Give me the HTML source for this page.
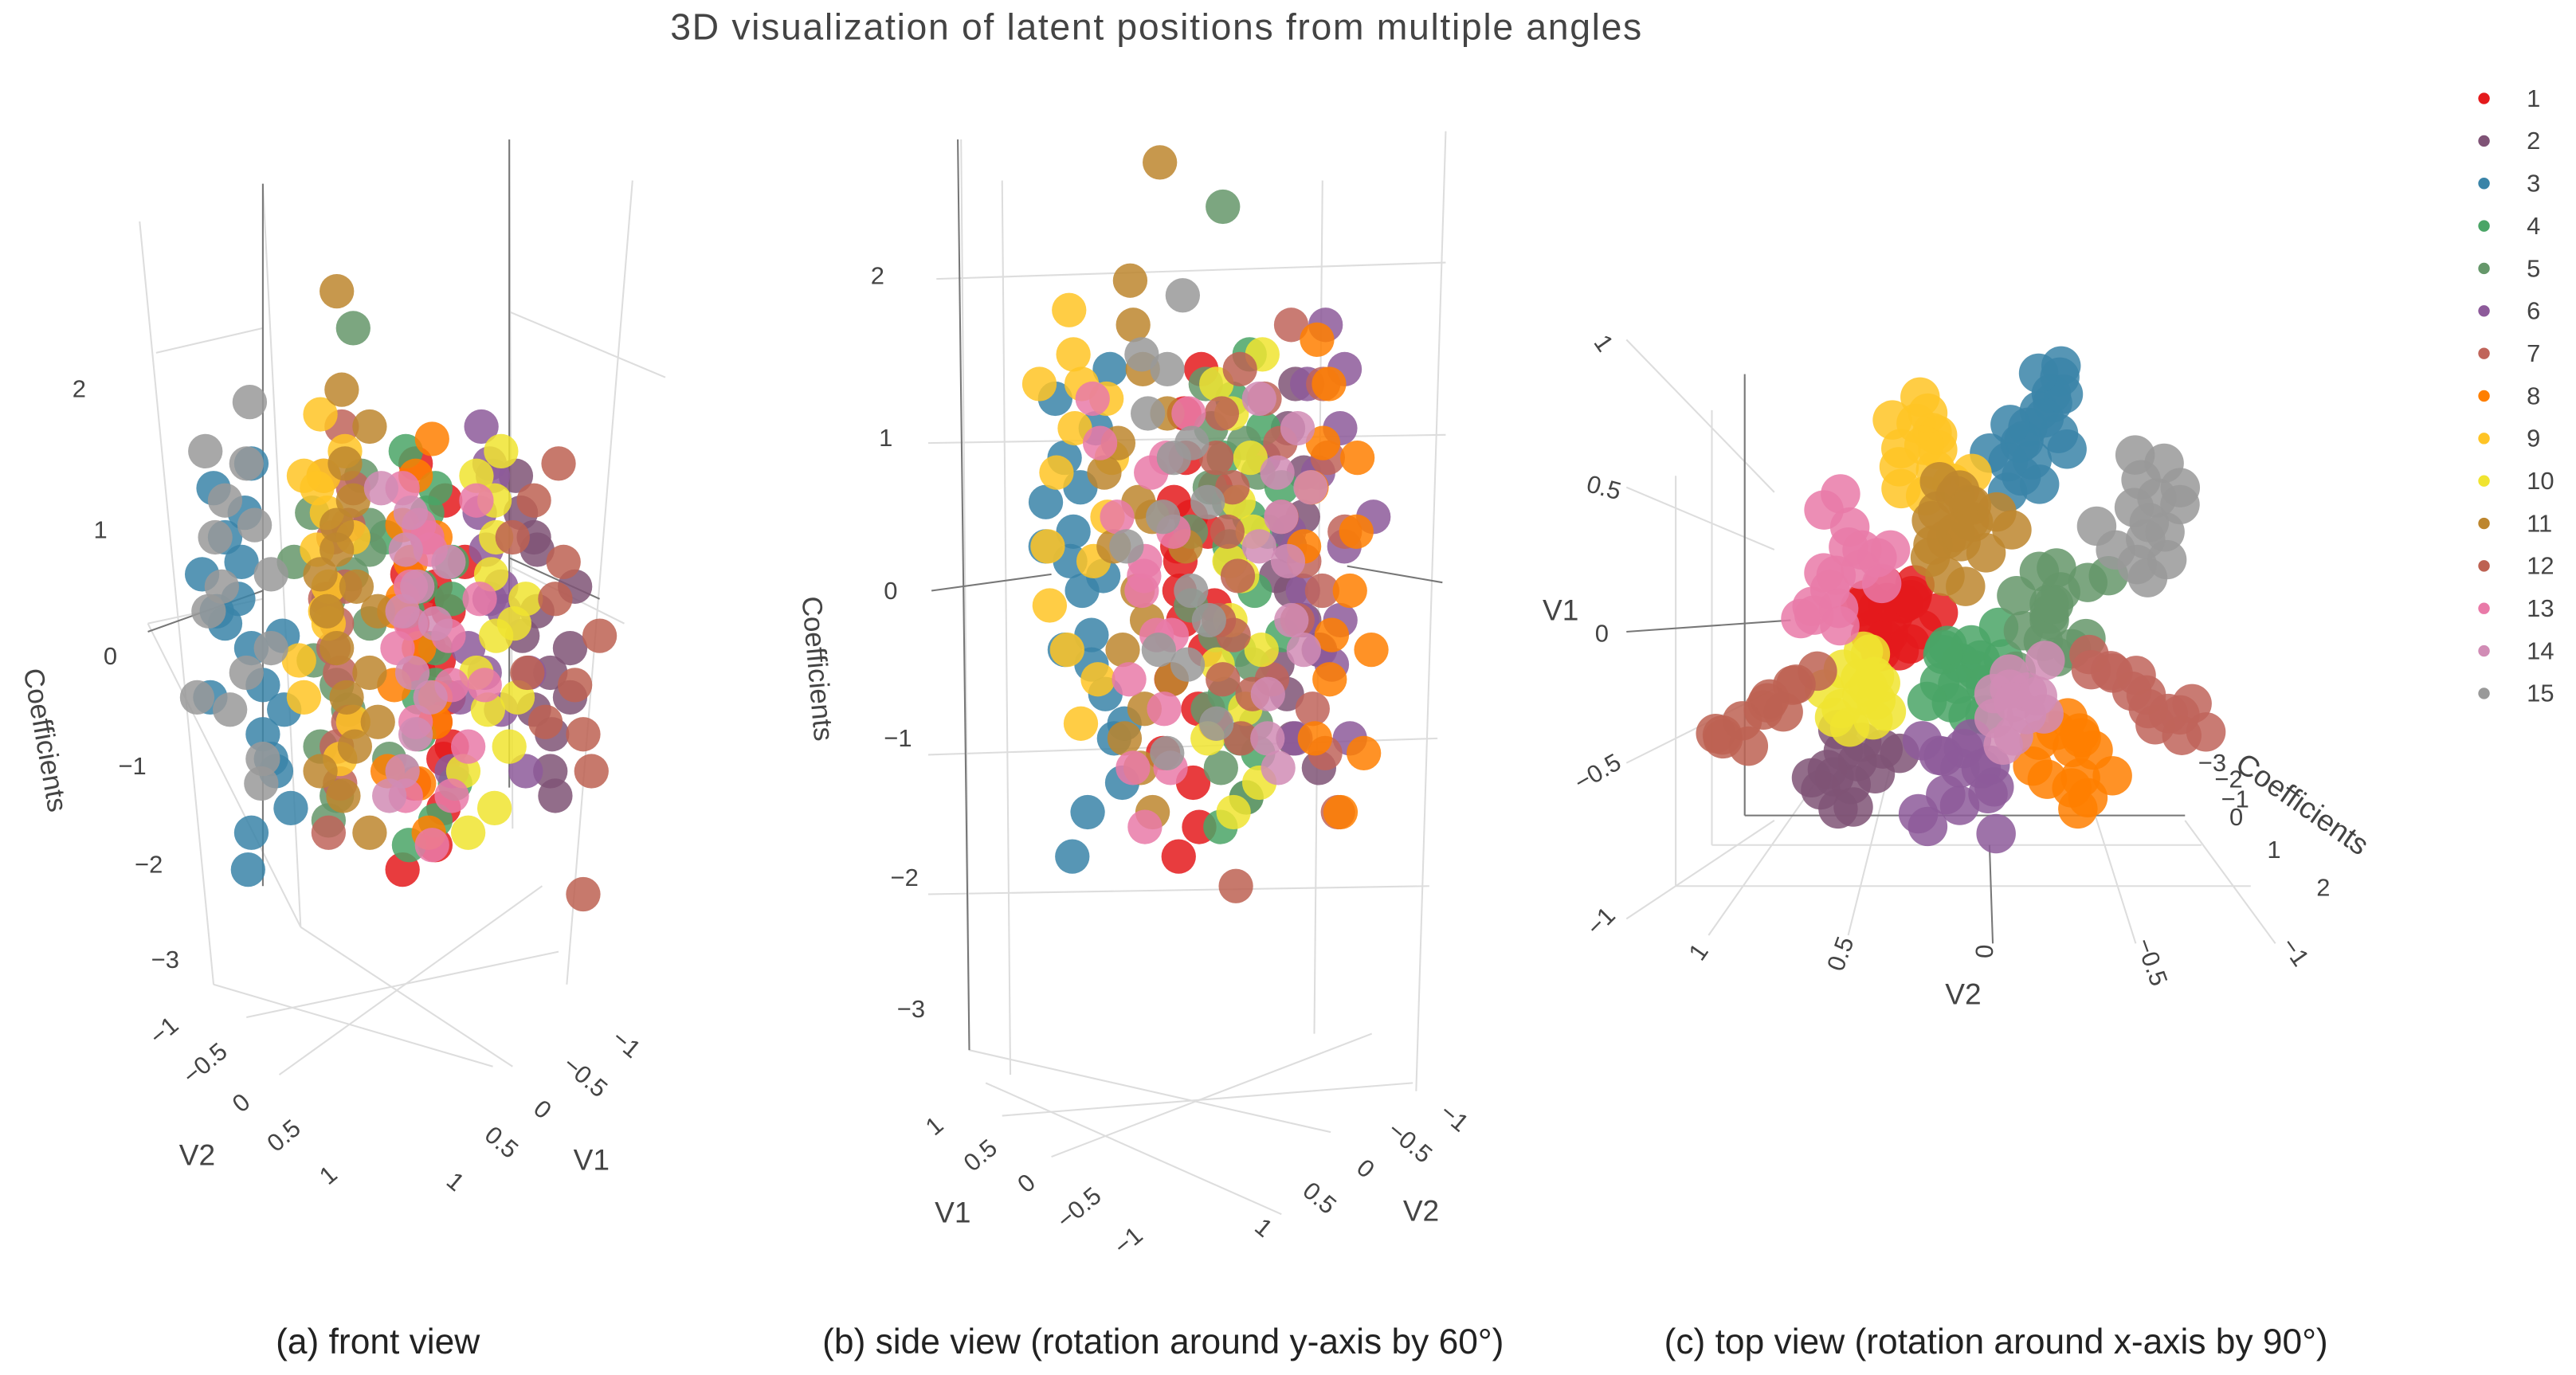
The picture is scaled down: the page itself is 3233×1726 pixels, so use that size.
<!DOCTYPE html>
<html><head><meta charset="utf-8"><style>
html,body{margin:0;padding:0;background:#fff;width:3233px;height:1726px;overflow:hidden}
svg{display:block}
text{font-family:"Liberation Sans",sans-serif;fill:#444}
</style></head><body>
<svg id="chart" width="3233" height="1726" viewBox="0 0 1568 838" preserveAspectRatio="none" xmlns="http://www.w3.org/2000/svg">
<text x="704" y="24" text-anchor="middle" font-size="22.5" letter-spacing="0.8">3D visualization of latent positions from multiple angles</text>
<g id="grid" stroke="#ddd" stroke-width="1" fill="none">
<line x1="160" y1="112" x2="183" y2="565"/><line x1="310" y1="85" x2="312" y2="505"/>
<line x1="85" y1="135" x2="130" y2="600"/><line x1="385" y1="110" x2="345" y2="600"/>
<line x1="183" y1="565" x2="312" y2="650"/><line x1="183" y1="565" x2="90" y2="380"/>
<line x1="130" y1="600" x2="300" y2="650"/><line x1="150" y1="620" x2="340" y2="580"/>
<line x1="170" y1="655" x2="330" y2="540"/><line x1="95" y1="215" x2="160" y2="200"/><line x1="310" y1="190" x2="405" y2="230"/>
<line x1="90" y1="380" x2="160" y2="365"/><line x1="310" y1="345" x2="380" y2="380"/>
<line x1="585" y1="85" x2="590" y2="640"/><line x1="880" y1="80" x2="862" y2="665"/>
<line x1="610" y1="110" x2="615" y2="655"/><line x1="805" y1="110" x2="800" y2="630"/>
<line x1="590" y1="640" x2="810" y2="690"/><line x1="610" y1="680" x2="860" y2="660"/>
<line x1="640" y1="705" x2="835" y2="630"/><line x1="600" y1="660" x2="780" y2="740"/>
<line x1="570" y1="170" x2="880" y2="160"/><line x1="565" y1="270" x2="880" y2="265"/>
<line x1="565" y1="460" x2="875" y2="450"/><line x1="565" y1="545" x2="870" y2="540"/>
<line x1="1062" y1="230" x2="1062" y2="497"/><line x1="1042" y1="250" x2="1042" y2="515"/>
<line x1="1020" y1="290" x2="1020" y2="540"/><line x1="1062" y1="497" x2="1330" y2="497"/>
<line x1="1042" y1="515" x2="1340" y2="515"/><line x1="1020" y1="540" x2="1370" y2="540"/>
<line x1="990" y1="207" x2="1080" y2="300"/><line x1="990" y1="297" x2="1080" y2="335"/>
<line x1="990" y1="465" x2="1080" y2="420"/><line x1="990" y1="560" x2="1080" y2="500"/>
<line x1="1040" y1="570" x2="1110" y2="470"/><line x1="1125" y1="570" x2="1150" y2="470"/>
<line x1="1300" y1="575" x2="1270" y2="480"/><line x1="1385" y1="575" x2="1330" y2="500"/>
</g>
<g stroke="#777" stroke-width="1" fill="none">
<line x1="160" y1="112" x2="160" y2="540"/><line x1="310" y1="85" x2="310" y2="480"/>
<line x1="90" y1="385" x2="160" y2="360"/><line x1="310" y1="340" x2="365" y2="365"/>
<line x1="583" y1="85" x2="590" y2="640"/><line x1="567" y1="360" x2="640" y2="350"/><line x1="820" y1="345" x2="878" y2="355"/>
<line x1="1062" y1="228" x2="1062" y2="497"/><line x1="1062" y1="497" x2="1330" y2="497"/>
<line x1="990" y1="385" x2="1090" y2="378"/><line x1="1213" y1="575" x2="1211" y2="515"/>
</g>
<g id="points"></g>
<g font-size="15">
<text x="44" y="242">2</text><text x="57" y="328">1</text><text x="63" y="405">0</text><text x="72" y="472">−1</text><text x="82" y="532">−2</text><text x="92" y="590">−3</text>
<text transform="translate(22,452) rotate(80)" text-anchor="middle" font-size="17">Coefficients</text>
<text transform="translate(103,632) rotate(-40)" text-anchor="middle">−1</text><text transform="translate(128,652) rotate(-40)" text-anchor="middle">−0.5</text><text transform="translate(150,676) rotate(-40)" text-anchor="middle">0</text><text transform="translate(176,696) rotate(-40)" text-anchor="middle">0.5</text><text transform="translate(203,720) rotate(-40)" text-anchor="middle">1</text>
<text x="120" y="710" text-anchor="middle" font-size="18">V2</text>
<text transform="translate(378,640) rotate(40)" text-anchor="middle">−1</text><text transform="translate(353,660) rotate(40)" text-anchor="middle">−0.5</text><text transform="translate(327,680) rotate(40)" text-anchor="middle">0</text><text transform="translate(302,700) rotate(40)" text-anchor="middle">0.5</text><text transform="translate(274,724) rotate(40)" text-anchor="middle">1</text>
<text x="360" y="713" text-anchor="middle" font-size="18">V1</text>
</g>
<g font-size="15">
<text x="530" y="173">2</text><text x="535" y="272">1</text><text x="538" y="365">0</text><text x="538" y="455">−1</text><text x="542" y="540">−2</text><text x="546" y="620">−3</text>
<text transform="translate(492,408) rotate(85)" text-anchor="middle" font-size="17">Coefficients</text>
<text transform="translate(572,690) rotate(-40)" text-anchor="middle">1</text><text transform="translate(600,708) rotate(-40)" text-anchor="middle">0.5</text><text transform="translate(628,725) rotate(-40)" text-anchor="middle">0</text><text transform="translate(660,740) rotate(-40)" text-anchor="middle">−0.5</text><text transform="translate(690,760) rotate(-40)" text-anchor="middle">−1</text>
<text x="580" y="745" text-anchor="middle" font-size="18">V1</text>
<text transform="translate(882,685) rotate(40)" text-anchor="middle">−1</text><text transform="translate(855,700) rotate(40)" text-anchor="middle">−0.5</text><text transform="translate(828,716) rotate(40)" text-anchor="middle">0</text><text transform="translate(800,734) rotate(40)" text-anchor="middle">0.5</text><text transform="translate(766,752) rotate(40)" text-anchor="middle">1</text>
<text x="865" y="744" text-anchor="middle" font-size="18">V2</text>
</g>
<g font-size="15">
<text transform="translate(972,212) rotate(55)" text-anchor="middle">1</text><text transform="translate(975,302) rotate(15)" text-anchor="middle">0.5</text><text x="975" y="391" text-anchor="middle">0</text><text transform="translate(975,475) rotate(-30)" text-anchor="middle">−0.5</text><text transform="translate(978,565) rotate(-45)" text-anchor="middle">−1</text>
<text x="950" y="378" text-anchor="middle" font-size="18">V1</text>
<text transform="translate(1038,583) rotate(-55)" text-anchor="middle">1</text><text transform="translate(1125,583) rotate(-70)" text-anchor="middle">0.5</text><text transform="translate(1213,580) rotate(-88)" text-anchor="middle">0</text><text transform="translate(1305,588) rotate(70)" text-anchor="middle">−0.5</text><text transform="translate(1393,583) rotate(55)" text-anchor="middle">−1</text>
<text x="1195" y="612" text-anchor="middle" font-size="18">V2</text>
<text x="1338" y="470">−3</text><text x="1348" y="480">−2</text><text x="1352" y="492">−1</text><text x="1357" y="503">0</text><text x="1380" y="523">1</text><text x="1410" y="546">2</text>
<text transform="translate(1398,495) rotate(35)" text-anchor="middle" font-size="18">Coefficients</text>
</g>
<g font-size="21.5">
<text x="230" y="825" text-anchor="middle" style="fill:#222">(a) front view</text>
<text x="708" y="825" text-anchor="middle" style="fill:#222">(b) side view (rotation around y-axis by 60°)</text>
<text x="1215" y="825" text-anchor="middle" style="fill:#222">(c) top view (rotation around x-axis by 90°)</text>
</g>
<g id="legend"></g>
</svg>
<script>
const clusterNames = ["1","2","3","4","5","6","7","8","9","10","11","12","13","14","15"];
const clusterColors = ["#e41a1c","#7f5376","#3a84a8","#4aa566","#65976a","#8d5a9a","#c0645a","#ff7f00","#ffc425","#f0e430","#bd862e","#bd6252","#e97aa8","#d18cb5","#999999"];
// points: [V1, V2, Coefficient]
const c1 = [[.05,.35,.5],[.1,.3,-.2],[0,.4,-.8],[.08,.33,.9],[.03,.38,-1.3],[.12,.28,.2],[.02,.32,-1.6],[.06,.42,1.2],[-.02,.36,-.4],[.1,.36,0],[.15,.28,.6],[-.05,.3,-.9],[0,.25,.4],[.12,.42,-.6],[-.08,.4,.7],[.18,.35,-1.1],[.04,.22,1.5],[-.04,.28,-.1],[.14,.24,-1.8],[.08,.46,.3]];
const c2 = [[-.45,.47,.3],[-.4,.5,-.5],[-.5,.42,.8],[-.48,.52,-1],[-.38,.45,.1],[-.52,.48,-.2],[-.42,.4,1.1],[-.46,.55,-.7],[-.55,.6,.5],[-.6,.52,-.4],[-.35,.55,.9],[-.58,.45,-1.2],[-.5,.62,0],[-.44,.35,1.4]];
const c3 = [[.85,-.2,1.3],[.8,-.18,.9],[.75,-.15,.4],[.7,-.12,0],[.65,-.1,-.3],[.6,-.15,-.7],[.55,-.12,-1],[.5,-.08,-1.3],[.62,0,-.5],[.78,-.2,.2],[.68,-.14,-1.5],[.72,-.16,.7],[.9,-.22,.6],[.58,-.05,.1],[.82,-.25,-.4],[.66,-.2,1.1],[.52,-.18,-.9],[.74,-.1,-1.8],[.88,-.15,.3],[.6,-.22,1.5]];
const c4 = [[-.14,.07,.5],[-.1,.1,-.4],[-.2,.05,1.1],[-.08,.02,-1],[-.18,.12,0],[-.12,0,1.6],[-.15,.15,-1.4],[-.05,.08,.3],[-.25,.15,.4],[-.05,.15,-.7],[-.28,.02,-.3],[0,0,.9],[-.1,.2,1.3],[-.22,.2,-1.1],[-.3,.1,.7],[-.02,.12,-1.6]];
const c5 = [[.03,-.18,.6],[.1,-.2,-.3],[-.05,-.15,1],[.15,-.25,-.8],[0,-.1,.2],[.08,-.22,-1.2],[-.1,-.2,.8],[.05,-.15,2.6],[.2,-.15,.4],[.15,-.3,1.1],[-.05,-.28,-.5],[.22,-.22,-.1],[-.12,-.1,-.9],[.1,-.05,1.4],[0,-.35,-1.4],[.18,-.38,.7]];
const c6 = [[-.48,.13,.8],[-.4,.1,0],[-.55,.15,-.5],[-.45,.2,1.4],[-.6,.12,.3],[-.35,.05,-1],[-.5,.08,1.8],[-.42,.18,-.2],[-.7,0,.5],[-.62,.25,-.2],[-.55,.02,1.1],[-.38,.25,.4],[-.65,.2,-1],[-.45,0,-.4],[-.58,.05,1.5]];
const c7 = [[-.1,-.3,1.3],[-.15,-.4,.5],[-.2,-.48,-.2],[-.25,-.55,-.8],[-.3,-.62,.9],[-.33,-.68,-1.5],[-.28,-.6,0],[-.18,-.45,1.8],[-.12,-.35,-.6],[-.22,-.52,.2],[-.3,-.58,-1.1],[-.35,-.72,.4],[-.15,-.38,1],[-.27,-.65,1.4]];
const c8 = [[-.42,-.24,1.4],[-.35,-.2,.7],[-.5,-.3,0],[-.45,-.15,-.6],[-.55,-.35,-1.1],[-.38,-.28,1],[-.48,-.22,-1.5],[-.3,-.25,.3],[-.4,-.35,-.3],[-.55,-.25,.9],[-.5,-.4,.4],[-.33,-.32,-1],[-.6,-.3,-.4],[-.4,-.12,1.7]];
const c9 = [[.65,.25,1.9],[.6,.22,1.4],[.7,.28,.8],[.55,.2,.2],[.68,.18,-.4],[.58,.3,-.9],[.62,.26,1.1],[.5,.15,.5],[.78,.28,1.4],[.72,.35,.3],[.5,.3,-.6],[.45,.25,.9],[.6,.35,1.6],[.75,.22,-.1],[.52,.1,1.3]];
const c10 = [[-.2,.44,.6],[-.15,.4,-.2],[-.25,.5,-.8],[-.18,.48,1.2],[-.28,.38,-1.3],[-.22,.45,.1],[-.12,.5,-.5],[-.25,.42,.9],[-.3,.55,.4],[-.1,.45,1.4],[-.32,.48,-.4],[-.05,.42,-1],[-.2,.58,.2],[-.3,.4,1.6],[-.15,.35,-1.5]];
const c11 = [[.4,.13,2.1],[.35,.1,1.5],[.45,.15,1],[.3,.12,.5],[.38,.08,0],[.42,.18,-.4],[.33,.14,-.8],[.36,.1,-1.2],[.48,.12,.3],[.3,.2,-.2],[.3,0,2.9],[.5,.2,.8],[.25,.05,1.2],[.2,.15,-.6],[.45,.05,-1],[.15,.1,.3],[.35,.25,1.8],[.28,.18,-1.5],[.4,0,.6]];
const c12 = [[-.2,.7,1.2],[-.25,.78,.4],[-.3,.85,-.3],[-.35,.9,-1],[-.28,.8,.7],[-.32,.88,-2],[-.22,.75,-.6],[-.15,.62,.9],[-.35,.95,.1],[-.3,.75,1.5],[-.38,.82,-.7],[-.18,.68,-.2]];
const c13 = [[.2,.47,.8],[.25,.4,.2],[.15,.55,-.3],[.1,.6,-.8],[.3,.42,-1.2],[.45,.55,1.3],[.22,.5,-1.6],[.05,.62,.4],[.28,.35,0],[.35,.5,.5],[.4,.6,1],[.1,.5,-1.2],[.2,.58,.1],[.15,.4,.9],[.3,.48,-.6],[0,.55,1.2],[.05,.65,-.3]];
const c14 = [[-.22,-.1,.8],[-.15,-.05,.3],[-.28,-.12,-.2],[-.2,-.02,-.7],[-.3,-.15,1.1],[-.18,-.08,-1],[-.25,-.06,.5],[-.35,-.08,-.4],[-.3,0,.2],[-.12,-.15,1.3],[-.4,-.02,.7],[-.2,-.18,-1.2]];
const c15 = [[.34,-.49,2],[.4,-.45,1.5],[.3,-.5,1],[.45,-.55,.5],[.28,-.42,0],[.35,-.6,-.5],[.5,-.48,1.2],[.2,-.55,-.9],[.6,-.48,.3],[.55,-.55,1.6],[.25,-.6,-.2],[.42,-.62,.9],[.38,-.38,-1.1],[.22,-.48,.6],[.5,-.65,-.4]];
const clusters = [c1,c2,c3,c4,c5,c6,c7,c8,c9,c10,c11,c12,c13,c14,c15];

const NS = "http://www.w3.org/2000/svg";
function projA(p){ return [235 + 100*(p[1]-p[0]), 395 - 75*p[2]]; }
function projB(p){ return [745 - 130*(p[0] + 0.3*p[1]), 360 - 90*p[2]]; }
function projC(p){ return [1213 - 178*p[1] + 4*p[2], 385 - 178*p[0] - 3*p[2]]; }
const views = [["front",projA,10.5],["side",projB,10.5],["top",projC,12]];
const g = document.getElementById("points");
views.forEach(function(v){
  const vg = document.createElementNS(NS,"g");
  
  
  clusters.forEach(function(pts, ci){
    pts.forEach(function(p){
      const xy = v[1](p);
      const c = document.createElementNS(NS,"circle");
      
      
      c.setAttribute("cx", xy[0]); c.setAttribute("cy", xy[1]); c.setAttribute("r", v[2]);
      c.setAttribute("fill", clusterColors[ci]); c.setAttribute("fill-opacity", "0.85");
      vg.appendChild(c);
    });
  });
  g.appendChild(vg);
});
const lg = document.getElementById("legend");
clusterNames.forEach(function(n, i){
  const y = 60 + i*25.9;
  const e = document.createElementNS(NS,"g");
  
  
  const d = document.createElementNS(NS,"circle");
  d.setAttribute("cx", 1512); d.setAttribute("cy", y); d.setAttribute("r", 3.5);
  d.setAttribute("fill", clusterColors[i]);
  const t = document.createElementNS(NS,"text");
  t.setAttribute("x", 1538); t.setAttribute("y", y+5); t.setAttribute("font-size", "15");
  t.textContent = n;
  e.appendChild(d); e.appendChild(t); lg.appendChild(e);
});
</script>
</body></html>
